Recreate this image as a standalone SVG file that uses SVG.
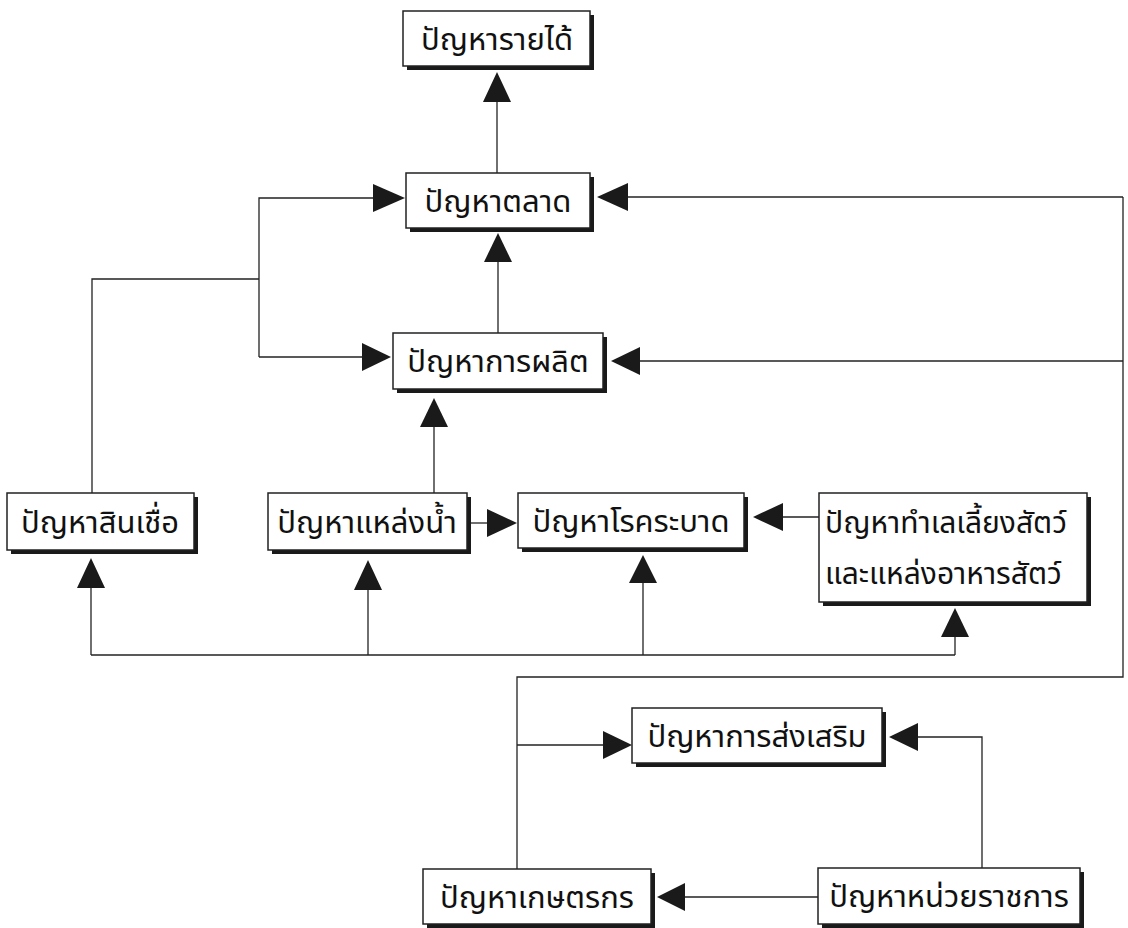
<svg xmlns="http://www.w3.org/2000/svg" width="1128" height="928" viewBox="0 0 1128 928">
<style>
.sh{fill:#1a1a1a;}
.bx{fill:#ffffff;stroke:#222;stroke-width:1.5;}
.t{font-family:"Noto Sans Thai","Loma","Garuda","Tlwg Typo","Norasi","Noto Sans","DejaVu Sans",sans-serif;font-size:31px;fill:#111;text-anchor:middle;}
.tl{text-anchor:start;font-size:30px;}
.ln{fill:none;stroke:#222;stroke-width:1.3;}
.ah{fill:#1a1a1a;}
</style>
<rect width="1128" height="928" fill="#ffffff"/>
<g id="connectors">
<path class="ln" d="M497,173 V102"/>
<polygon class="ah" points="497,72 483,102 511,102"/>
<path class="ln" d="M498,333 V262"/>
<polygon class="ah" points="498,233 484,262 512,262"/>
<path class="ln" d="M259,357 V198 H373"/>
<polygon class="ah" points="405,198 373,184 373,212"/>
<path class="ln" d="M92,493 V279 H259"/>
<path class="ln" d="M259,357 H362"/>
<polygon class="ah" points="391,357 362,343 362,371"/>
<path class="ln" d="M1123,197 H628"/>
<polygon class="ah" points="597,197 628,183 628,211"/>
<path class="ln" d="M1123,361 H640"/>
<polygon class="ah" points="611,361 640,347 640,375"/>
<path class="ln" d="M1123,197 V677 H517 V869"/>
<path class="ln" d="M517,745 H603"/>
<polygon class="ah" points="632,745 603,731 603,759"/>
<path class="ln" d="M434,493 V427"/>
<polygon class="ah" points="434,398 420,427 448,427"/>
<path class="ln" d="M467,523 H487"/>
<polygon class="ah" points="517,523 487,509 487,537"/>
<path class="ln" d="M819,517 H783"/>
<polygon class="ah" points="753,517 783,503 783,531"/>
<path class="ln" d="M91,655 H955"/>
<path class="ln" d="M91,655 V588"/>
<polygon class="ah" points="91,558 77,588 105,588"/>
<path class="ln" d="M368,655 V590"/>
<polygon class="ah" points="368,560 354,590 382,590"/>
<path class="ln" d="M643,655 V583"/>
<polygon class="ah" points="643,555 629,583 657,583"/>
<path class="ln" d="M955,655 V637"/>
<polygon class="ah" points="955,608 941,637 969,637"/>
<path class="ln" d="M818,897 H685"/>
<polygon class="ah" points="657,897 685,883 685,911"/>
<path class="ln" d="M982,868 V737 H918"/>
<polygon class="ah" points="889,737 918,723 918,751"/>
</g>
<g id="n-income">
<rect class="sh" x="407" y="15" width="187" height="55"/>
<rect class="bx" x="403" y="11" width="187" height="55"/>
<text class="t" x="497" y="50">ปัญหารายได้</text>
</g>
<g id="n-market">
<rect class="sh" x="410" y="177" width="184" height="55"/>
<rect class="bx" x="406" y="173" width="184" height="55"/>
<text class="t" x="498" y="212">ปัญหาตลาด</text>
</g>
<g id="n-production">
<rect class="sh" x="397" y="337" width="210" height="56"/>
<rect class="bx" x="393" y="333" width="210" height="56"/>
<text class="t" x="498" y="372">ปัญหาการผลิต</text>
</g>
<g id="n-credit">
<rect class="sh" x="11" y="497" width="187" height="57"/>
<rect class="bx" x="7" y="493" width="187" height="57"/>
<text class="t" x="100" y="533">ปัญหาสินเชื่อ</text>
</g>
<g id="n-water">
<rect class="sh" x="272" y="497" width="199" height="57"/>
<rect class="bx" x="268" y="493" width="199" height="57"/>
<text class="t" x="367" y="533">ปัญหาแหล่งน้ำ</text>
</g>
<g id="n-disease">
<rect class="sh" x="522" y="497" width="226" height="55"/>
<rect class="bx" x="518" y="493" width="226" height="55"/>
<text class="t" x="631" y="532">ปัญหาโรคระบาด</text>
</g>
<g id="n-pasture">
<rect class="sh" x="823" y="497" width="268" height="109"/>
<rect class="bx" x="819" y="493" width="268" height="109"/>
<text class="t tl" x="825" y="533">ปัญหาทำเลเลี้ยงสัตว์</text>
<text class="t tl" x="825" y="584">และแหล่งอาหารสัตว์</text>
</g>
<g id="n-extension">
<rect class="sh" x="636" y="712" width="250" height="55"/>
<rect class="bx" x="632" y="708" width="250" height="55"/>
<text class="t" x="757" y="747">ปัญหาการส่งเสริม</text>
</g>
<g id="n-farmer">
<rect class="sh" x="427" y="873" width="228" height="55"/>
<rect class="bx" x="423" y="869" width="228" height="55"/>
<text class="t" x="537" y="908">ปัญหาเกษตรกร</text>
</g>
<g id="n-agency">
<rect class="sh" x="822" y="872" width="262" height="56"/>
<rect class="bx" x="818" y="868" width="262" height="56"/>
<text class="t" x="949" y="907">ปัญหาหน่วยราชการ</text>
</g>
</svg>
